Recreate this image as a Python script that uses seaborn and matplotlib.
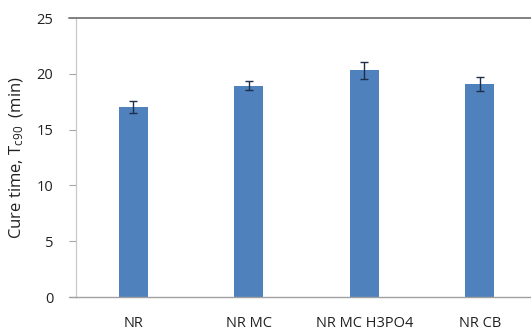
import matplotlib
matplotlib.use("Agg")
import matplotlib.pyplot as plt
import seaborn as sns
import pandas as pd

categories = ["NR", "NR MC", "NR MC H3PO4", "NR CB"]
cure_time = [17.0, 18.95, 20.3, 19.1]
cure_err = [0.55, 0.4, 0.8, 0.6]
y_ticks = [0, 5, 10, 15, 20, 25]

sns.set_theme(style="white")
plt.rcParams['font.family'] = ['Open Sans', 'DejaVu Sans']
plt.rcParams['mathtext.fontset'] = 'custom'
plt.rcParams['mathtext.rm'] = 'Open Sans'
plt.rcParams['mathtext.it'] = 'Open Sans'

df = pd.DataFrame({"cat": categories, "val": cure_time, "err": cure_err})

fig = plt.figure(figsize=(5.31, 3.35), dpi=100)
ax = fig.add_axes([0.1426, 0.1134, 0.8697, 0.8328])

sns.barplot(data=df, x="cat", y="val", color="#4F81BD", saturation=1,
            width=0.25, errorbar=None, ax=ax, edgecolor="#4F81BD", linewidth=0)
ax.errorbar(x=list(range(len(categories))), y=df["val"], yerr=df["err"],
            fmt="none", ecolor="#1F2F4A", elinewidth=1.0, capsize=2.8, capthick=1.0)

ax.set_ylim(0, 25)
ax.set_xlim(-0.5, len(categories) - 0.5)
ax.set_yticks(y_ticks)
ax.set_yticklabels([str(t) for t in y_ticks], fontsize=10.5, color="#222222")
ax.set_xticks(range(len(categories)))
ax.set_xticklabels(categories, fontsize=10.5, color="#222222")
ax.set_xlabel("")
ax.set_ylabel("Cure time, T$_{c90}$  (min)", fontsize=12, color="#222222", labelpad=8)

ax.tick_params(axis="y", which="major", length=5, width=0.8, color="#A6A6A6",
               direction="out", left=True, pad=11)
ax.tick_params(axis="x", length=0, pad=14)

ax.spines["left"].set_color("#C8C8C8")
ax.spines["left"].set_linewidth(0.9)
ax.spines["bottom"].set_color("#A0A0A0")
ax.spines["bottom"].set_linewidth(1.0)
ax.spines["top"].set_color("#808080")
ax.spines["top"].set_linewidth(1.4)
ax.spines["right"].set_visible(False)
ax.spines["top"].set_visible(True)
ax.axhline(0, xmin=-0.015, xmax=0, color="#A0A0A0", lw=1.0, clip_on=False)
ax.axhline(25, xmin=-0.015, xmax=0, color="#808080", lw=1.4, clip_on=False)

fig.savefig("out.png", dpi=100)
